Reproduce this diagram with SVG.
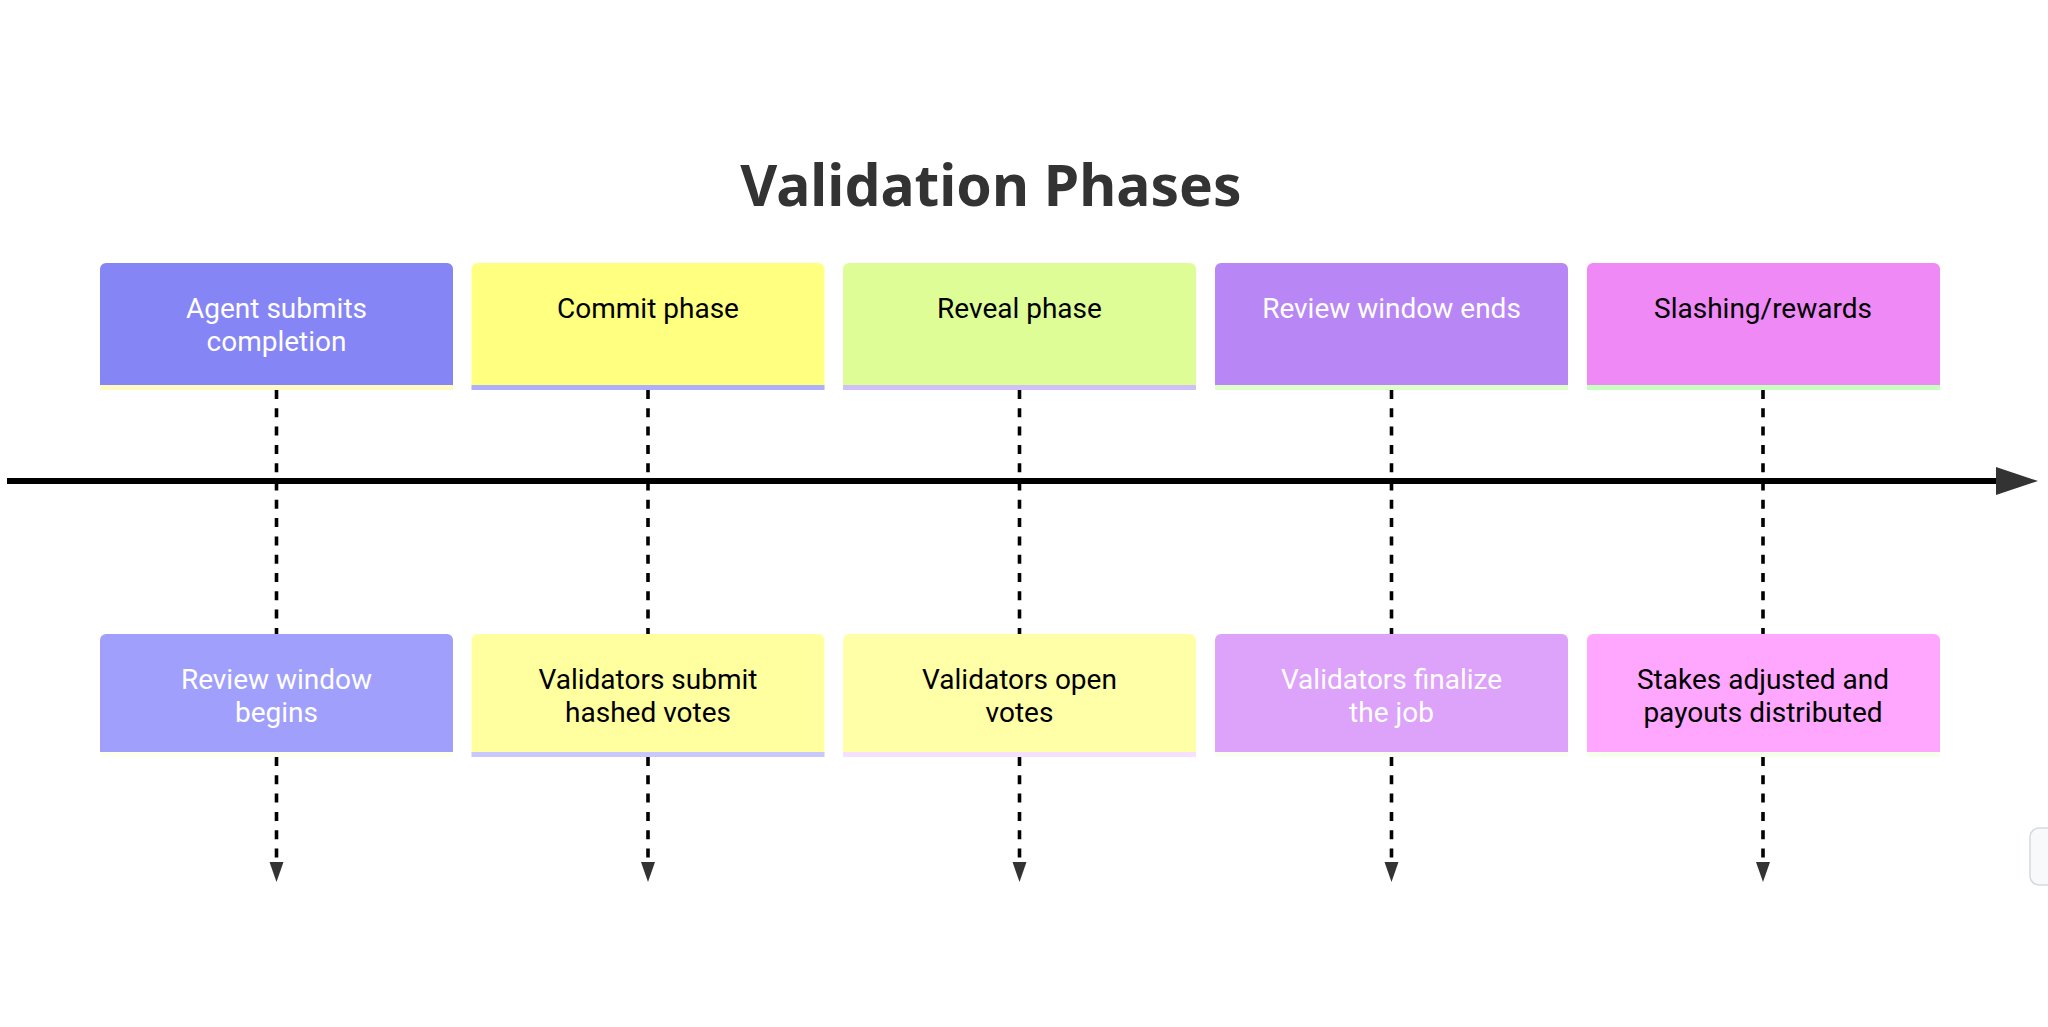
<svg xmlns="http://www.w3.org/2000/svg" width="2048" height="1027" viewBox="0 0 2048 1027">
<style>
.title{font-family:"Noto Sans","DejaVu Sans",sans-serif;font-weight:bold;font-size:57px;fill:#333333;text-anchor:middle}
.lbl{font-family:Roboto,"Noto Sans",sans-serif;font-size:28px;text-anchor:middle}
.w{fill:#ffffff}
.b{fill:#000000}
.dash{stroke:#000000;stroke-width:3.6;stroke-dasharray:9 9.3;fill:none}
.stripe{stroke-width:5;fill:none}
</style>
<rect width="2048" height="1027" fill="#ffffff"/>
<text class="title" x="991" y="206">Validation Phases</text>

<g id="connectors">
<line class="dash" x1="276.5" y1="390" x2="276.5" y2="634"/>
<line class="dash" x1="648" y1="390" x2="648" y2="634"/>
<line class="dash" x1="1019.5" y1="390" x2="1019.5" y2="634"/>
<line class="dash" x1="1391.5" y1="390" x2="1391.5" y2="634"/>
<line class="dash" x1="1763" y1="390" x2="1763" y2="634"/>
<path class="dash" d="M276.5,757 V862"/>
<path class="dash" d="M648,757 V862"/>
<path class="dash" d="M1019.5,757 V862"/>
<path class="dash" d="M1391.5,757 V862"/>
<path class="dash" d="M1763,757 V862"/>
<polygon points="269.5,862 283.5,862 276.5,882" fill="#333333"/>
<polygon points="641,862 655,862 648,882" fill="#333333"/>
<polygon points="1012.5,862 1026.5,862 1019.5,882" fill="#333333"/>
<polygon points="1384.5,862 1398.5,862 1391.5,882" fill="#333333"/>
<polygon points="1756,862 1770,862 1763,882" fill="#333333"/>
<line x1="7" y1="481" x2="1998" y2="481" stroke="#000000" stroke-width="6"/>
<polygon points="1996,467 2038,481 1996,495" fill="#333333"/>
</g>

<g id="sec1">
<path d="M100,388 V269 a6,6 0 0 1 6,-6 H447 a6,6 0 0 1 6,6 V388 Z" fill="#8585F5"/>
<line class="stripe" x1="100" y1="387.5" x2="453" y2="387.5" stroke="#FFFBC0"/>
<text class="lbl w" x="276.5" y="318">Agent submits</text>
<text class="lbl w" x="276.5" y="351">completion</text>
</g>
<g id="sec2">
<path d="M471.5,388 V269 a6,6 0 0 1 6,-6 H818.5 a6,6 0 0 1 6,6 V388 Z" fill="#FFFF80"/>
<line class="stripe" x1="471.5" y1="387.5" x2="824.5" y2="387.5" stroke="#B0B0FA"/>
<text class="lbl b" x="648" y="318">Commit phase</text>
</g>
<g id="sec3">
<path d="M843,388 V269 a6,6 0 0 1 6,-6 H1190 a6,6 0 0 1 6,6 V388 Z" fill="#DFFD97"/>
<line class="stripe" x1="843" y1="387.5" x2="1196" y2="387.5" stroke="#D0C0F8"/>
<text class="lbl b" x="1019.5" y="318">Reveal phase</text>
</g>
<g id="sec4">
<path d="M1215,388 V269 a6,6 0 0 1 6,-6 H1562 a6,6 0 0 1 6,6 V388 Z" fill="#B886F5"/>
<line class="stripe" x1="1215" y1="387.5" x2="1568" y2="387.5" stroke="#E0FFC8"/>
<text class="lbl w" x="1391.5" y="318">Review window ends</text>
</g>
<g id="sec5">
<path d="M1587,388 V269 a6,6 0 0 1 6,-6 H1934 a6,6 0 0 1 6,6 V388 Z" fill="#EE89F5"/>
<line class="stripe" x1="1587" y1="387.5" x2="1940" y2="387.5" stroke="#C8FFC0"/>
<text class="lbl b" x="1763" y="318">Slashing/rewards</text>
</g>

<g id="ev1">
<path d="M100,755 V640 a6,6 0 0 1 6,-6 H447 a6,6 0 0 1 6,6 V755 Z" fill="#A0A0FC"/>
<line class="stripe" x1="100" y1="754.5" x2="453" y2="754.5" stroke="#FFFFEE" stroke-width="4"/>
<text class="lbl w" x="276.5" y="689">Review window</text>
<text class="lbl w" x="276.5" y="722">begins</text>
</g>
<g id="ev2">
<path d="M471.5,755 V640 a6,6 0 0 1 6,-6 H818.5 a6,6 0 0 1 6,6 V755 Z" fill="#FFFFA0"/>
<line class="stripe" x1="471.5" y1="754.5" x2="824.5" y2="754.5" stroke="#C8C8FF" stroke-width="4"/>
<text class="lbl b" x="648" y="689">Validators submit</text>
<text class="lbl b" x="648" y="722">hashed votes</text>
</g>
<g id="ev3">
<path d="M843,755 V640 a6,6 0 0 1 6,-6 H1190 a6,6 0 0 1 6,6 V755 Z" fill="#FFFFA8"/>
<line class="stripe" x1="843" y1="754.5" x2="1196" y2="754.5" stroke="#F5E0FF" stroke-width="4"/>
<text class="lbl b" x="1019.5" y="689">Validators open</text>
<text class="lbl b" x="1019.5" y="722">votes</text>
</g>
<g id="ev4">
<path d="M1215,755 V640 a6,6 0 0 1 6,-6 H1562 a6,6 0 0 1 6,6 V755 Z" fill="#DDA2FA"/>
<line class="stripe" x1="1215" y1="754.5" x2="1568" y2="754.5" stroke="#F8FFF0" stroke-width="4"/>
<text class="lbl w" x="1391.5" y="689">Validators finalize</text>
<text class="lbl w" x="1391.5" y="722">the job</text>
</g>
<g id="ev5">
<path d="M1587,755 V640 a6,6 0 0 1 6,-6 H1934 a6,6 0 0 1 6,6 V755 Z" fill="#FFA6FF"/>
<line class="stripe" x1="1587" y1="754.5" x2="1940" y2="754.5" stroke="#F5FFEA" stroke-width="4"/>
<text class="lbl b" x="1763" y="689">Stakes adjusted and</text>
<text class="lbl b" x="1763" y="722">payouts distributed</text>
</g>

<rect x="2030" y="828" width="40" height="57" rx="9" fill="#F8F9FA" stroke="#D5DADF" stroke-width="1.5"/>
</svg>
